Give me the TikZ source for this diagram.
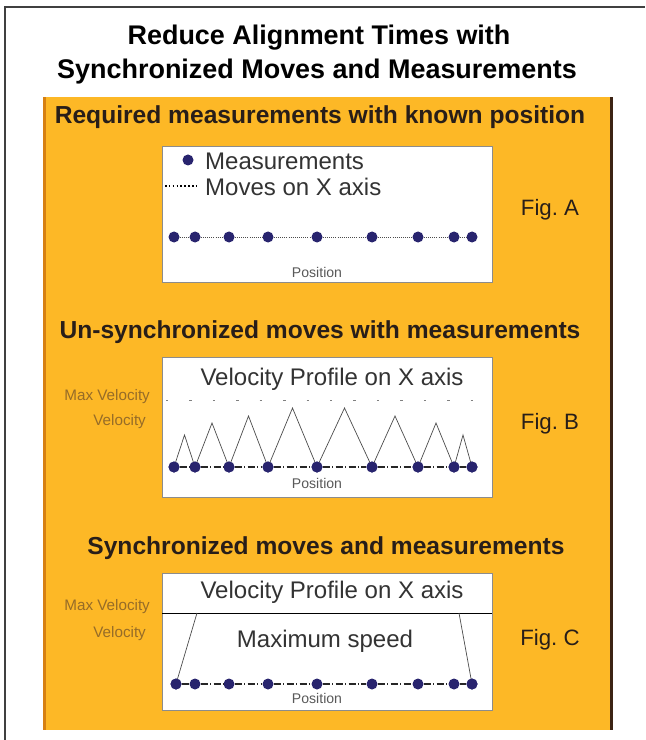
\documentclass[tikz,border=0pt]{standalone}
\usepackage{fontspec}
\setmainfont{Liberation Sans}
\definecolor{panelorange}{RGB}{253,184,38}
\definecolor{paneledge}{RGB}{214,128,18}
\definecolor{panelrim}{RGB}{60,35,20}
\definecolor{dotblue}{RGB}{40,36,110}
\definecolor{labelbrown}{RGB}{150,108,40}
\definecolor{inktext}{RGB}{40,30,25}

\begin{document}
\begin{tikzpicture}[x=0.03cm, y=-0.03cm,
    title/.style={font=\fontsize{23}{27}\selectfont\bfseries, text=black},
    heading/.style={font=\fontsize{21}{25}\selectfont\bfseries, text=inktext},
    boxtext/.style={font=\fontsize{20.5}{24}\selectfont, text=black!80},
    figlabel/.style={font=\fontsize{19}{23}\selectfont, text=inktext},
    axislabel/.style={font=\fontsize{12}{14}\selectfont, text=black!65},
    sidelabel/.style={font=\fontsize{13}{15}\selectfont, text=labelbrown, anchor=east},
    meas/.style={circle, fill=dotblue, inner sep=0pt, minimum size=3.3mm},
    profile/.style={black!70, line width=0.6pt},
    plotbox/.style={fill=white, draw=black!45, line width=0.6pt}]
    \useasboundingbox (0,0) rectangle (645,740);

    % Frame
    \draw[line width=1.2pt, black!75] (5,740) -- (5,7) -- (645,7);

    % Orange panel
    \fill[panelorange] (43,97) rectangle (613,730);
    \fill[paneledge] (43,97) rectangle (46,730);
    \fill[panelrim] (610,97) rectangle (613,730);

    % Title
    \node[title] (title1) at (319,38) {Reduce Alignment Times with};
    \node[title] (title2) at (317,72) {Synchronized Moves and Measurements};

    % Headings
    \node[heading] (heada) at (320,117) {Required measurements with known position};
    \node[heading] (headb) at (320,332) {Un-synchronized moves with measurements};
    \node[heading] (headc) at (326,548) {Synchronized moves and measurements};

    % Fig. A
    \draw[plotbox] (162,146) rectangle (492,282);
    \node[meas] (legdot) at (188,160) {};
    \node[boxtext, anchor=west] (legmeas) at (201,161) {Measurements};
    \coordinate (legl) at (165,186);
    \coordinate (legr) at (199,186);
    \draw[black, line width=1.3pt, dotted] (legl) -- (legr);
    \node[boxtext, anchor=west] (legmove) at (201,187) {Moves on X axis};
    \foreach \x [count=\i] in {174,195,229,268,317,372,418,454,472}
        \node[meas] (a\i) at (\x,237) {};
    \foreach \i [evaluate=\i as \j using int(\i+1)] in {1,...,8}
        \draw[black!70, line width=0.8pt, densely dotted] (a\i) -- (a\j);
    \node[axislabel] (posa) at (317,272) {Position};
    \node[figlabel] (figa) at (550,210) {Fig.\ A};

    % Fig. B
    \draw[plotbox] (162,357) rectangle (492,497);
    \node[boxtext] (velb) at (332,379) {Velocity Profile on X axis};
    \coordinate (maxbl) at (166,400);
    \coordinate (maxbr) at (488,400);
    \draw[black!50, line width=0.6pt, dash pattern=on 2pt off 18pt] (maxbl) -- (maxbr);
    \foreach \x [count=\i] in {174,195,229,268,317,372,418,454,472}
        \node[meas] (b\i) at (\x,467) {};
    \foreach \h [count=\i, evaluate=\i as \j using int(\i+1)] in {435,423,416,408,408,416,423,435} {
        \path (b\i) -- (b\j) coordinate[pos=0.5] (m\i);
        \coordinate (p\i) at (m\i |- 0,\h);
        \draw[profile] (b\i.center) -- (p\i) -- (b\j.center);
        \draw[black!85, line width=0.9pt, dash pattern=on 6pt off 2pt on 1pt off 2pt] (b\i) -- (b\j);
    }
    \foreach \i in {1,...,9}
        \node[meas] at (b\i) {};
    \node[axislabel] (posb) at (317,483) {Position};
    \node[sidelabel] (maxvb) at (154,397) {Max Velocity};
    \node[sidelabel] (vb) at (150,422) {Velocity};
    \node[figlabel] (figb) at (550,424) {Fig.\ B};

    % Fig. C
    \draw[plotbox] (162,573) rectangle (492,710);
    \node[boxtext] (velc) at (332,592) {Velocity Profile on X axis};
    \coordinate (maxcl) at (162,613);
    \coordinate (maxcr) at (492,613);
    \draw[black, line width=0.8pt] (maxcl) -- (maxcr);
    \node[boxtext] (maxspeed) at (325,641) {Maximum speed};
    \foreach \x [count=\i] in {176,195,229,268,317,372,418,454,472}
        \node[meas] (c\i) at (\x,684) {};
    \foreach \i [evaluate=\i as \j using int(\i+1)] in {1,...,8}
        \draw[black!85, line width=0.9pt, dash pattern=on 6pt off 2pt on 1pt off 2pt] (c\i) -- (c\j);
    \coordinate (rampl) at (197,613);
    \coordinate (rampr) at (459,613);
    \draw[profile] (c1.center) -- (rampl);
    \draw[profile] (c9.center) -- (rampr);
    \node[meas] at (c1) {};
    \node[meas] at (c9) {};
    \node[axislabel] (posc) at (317,698) {Position};
    \node[sidelabel] (maxvc) at (154,607) {Max Velocity};
    \node[sidelabel] (vc) at (150,634) {Velocity};
    \node[figlabel] (figc) at (550,640) {Fig.\ C};
\end{tikzpicture}
\end{document}
